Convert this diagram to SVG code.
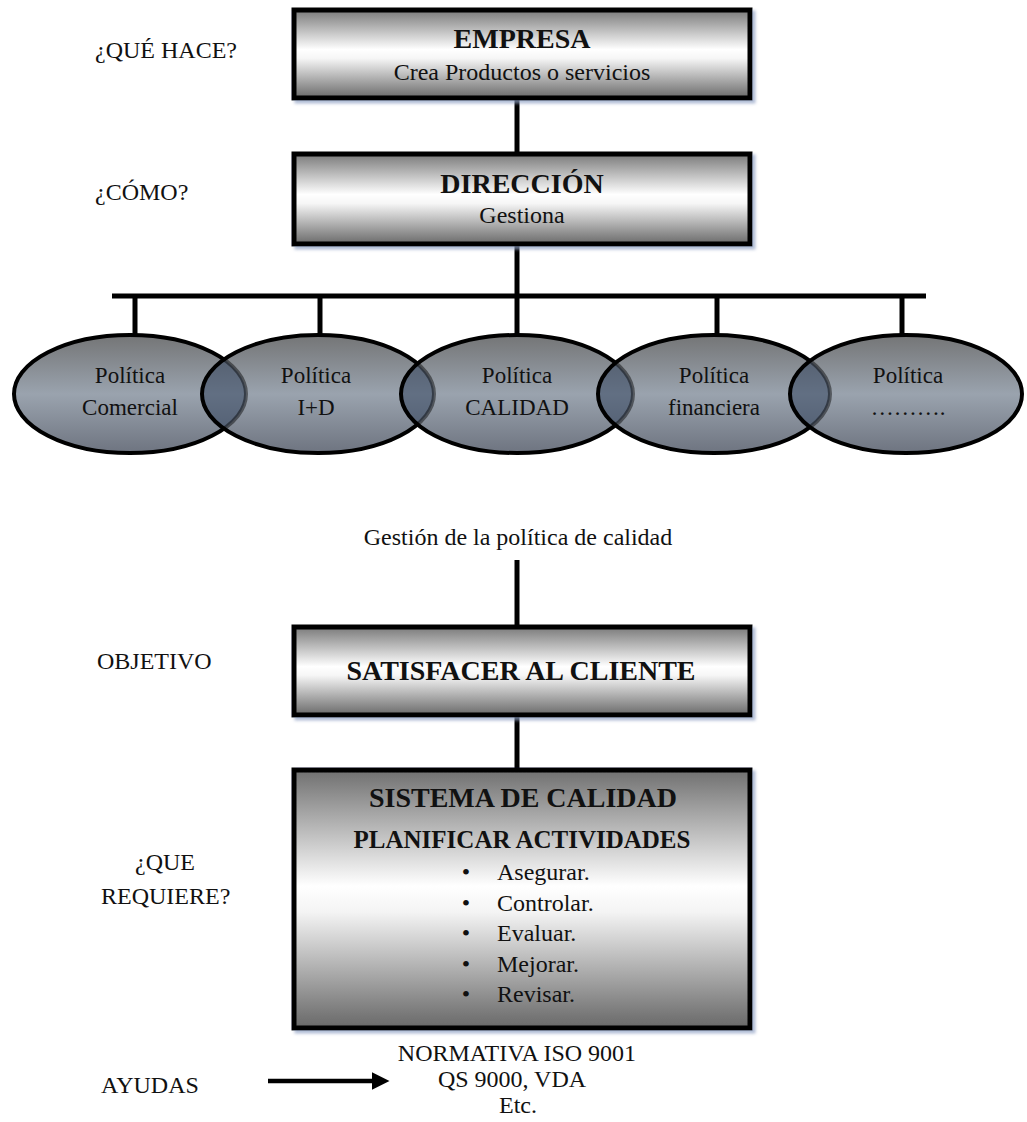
<svg xmlns="http://www.w3.org/2000/svg" width="1027" height="1122" viewBox="0 0 1027 1122" font-family="'Liberation Serif', 'DejaVu Serif', serif">
  <defs>
    <style>
      text { font-family: 'Liberation Serif', 'DejaVu Serif', serif; fill: #111; }
      .lbl { font-size: 24px; }
      .sub { font-size: 24px; text-anchor: middle; }
      .ttl { font-size: 28px; font-weight: bold; text-anchor: middle; }
      .pol { font-size: 23px; text-anchor: middle; }
      .item { font-size: 24px; }
      .box { fill: url(#boxGrad); stroke: #000; stroke-width: 5; filter: url(#shadow); }
      .tallbox { fill: url(#tallGrad); stroke: #000; stroke-width: 5; filter: url(#shadow); }
      .conn { stroke: #000; stroke-width: 5; fill: none; }
      .ell { fill: url(#ellGrad); stroke: none; }
      .ellEdge { fill: none; stroke: #000; stroke-width: 4; }
      .lens { fill: #2a3b58; fill-opacity: 0.5; stroke: #000; stroke-opacity: 0.45; stroke-width: 4; }
    </style>
    <linearGradient id="boxGrad" x1="0" y1="0" x2="0" y2="1">
      <stop offset="0" stop-color="#7a7a7a"/>
      <stop offset="0.45" stop-color="#ffffff"/>
      <stop offset="0.55" stop-color="#f6f6f6"/>
      <stop offset="1" stop-color="#6a6a6a"/>
    </linearGradient>
    <linearGradient id="tallGrad" x1="0" y1="0" x2="0" y2="1">
      <stop offset="0" stop-color="#707070"/>
      <stop offset="0.45" stop-color="#ffffff"/>
      <stop offset="0.55" stop-color="#f4f4f4"/>
      <stop offset="1" stop-color="#686868"/>
    </linearGradient>
    <linearGradient id="ellGrad" x1="0" y1="0" x2="0" y2="1">
      <stop offset="0" stop-color="#747576"/>
      <stop offset="0.5" stop-color="#9aa3ae"/>
      <stop offset="1" stop-color="#6e7480"/>
    </linearGradient>
    <filter id="shadow" x="-5%" y="-5%" width="112%" height="120%">
      <feGaussianBlur in="SourceAlpha" stdDeviation="1.5"/>
      <feOffset dx="3" dy="3" result="b"/>
      <feFlood flood-color="#8fa0c4" flood-opacity="0.7"/>
      <feComposite in2="b" operator="in"/>
      <feMerge>
        <feMergeNode/>
        <feMergeNode in="SourceGraphic"/>
      </feMerge>
    </filter>
    <clipPath id="clipE2"><ellipse cx="318" cy="394" rx="116" ry="59"/></clipPath>
    <clipPath id="clipE3"><ellipse cx="517" cy="394" rx="116" ry="59"/></clipPath>
    <clipPath id="clipE4"><ellipse cx="714" cy="394" rx="116" ry="59"/></clipPath>
    <clipPath id="clipE5"><ellipse cx="906" cy="394" rx="116" ry="59"/></clipPath>
    <marker id="arrowHead" markerWidth="4" markerHeight="4" refX="1" refY="2" orient="auto" markerUnits="strokeWidth">
      <path d="M0,0 L4,2 L0,4 Z" fill="#000"/>
    </marker>
  </defs>

  <rect width="1027" height="1122" fill="#fff"/>

  <!-- side labels -->
  <g id="labels">
    <text class="lbl" x="95" y="58">¿QUÉ HACE?</text>
    <text class="lbl" x="95" y="200">¿CÓMO?</text>
    <text class="lbl" x="97" y="669">OBJETIVO</text>
    <text class="lbl" x="135" y="870">¿QUE</text>
    <text class="lbl" x="101" y="904">REQUIERE?</text>
    <text class="lbl" x="101" y="1093">AYUDAS</text>
  </g>

  <!-- connectors -->
  <g id="connectors">
    <line class="conn" x1="517" y1="100" x2="517" y2="152"/>
    <line class="conn" x1="517" y1="246" x2="517" y2="296"/>
    <line class="conn" x1="112" y1="296" x2="926" y2="296"/>
    <line class="conn" x1="135" y1="296" x2="135" y2="336"/>
    <line class="conn" x1="320" y1="296" x2="320" y2="336"/>
    <line class="conn" x1="517" y1="296" x2="517" y2="336"/>
    <line class="conn" x1="717" y1="296" x2="717" y2="336"/>
    <line class="conn" x1="902" y1="296" x2="902" y2="336"/>
    <line class="conn" x1="517" y1="560" x2="517" y2="625"/>
    <line class="conn" x1="517" y1="717" x2="517" y2="768"/>
    <line x1="268" y1="1081" x2="376" y2="1081" stroke="#000" stroke-width="4.5" marker-end="url(#arrowHead)"/>
  </g>

  <g id="empresa">
    <rect class="box" x="294" y="10" width="456" height="88"/>
    <text class="ttl" x="522" y="48">EMPRESA</text>
    <text class="sub" x="522" y="80">Crea Productos o servicios</text>
  </g>

  <g id="direccion">
    <rect class="box" x="294" y="154" width="456" height="90"/>
    <text class="ttl" x="522" y="193">DIRECCIÓN</text>
    <text class="sub" x="522" y="223">Gestiona</text>
  </g>

  <g id="pol-comercial">
    <ellipse class="ell" cx="130" cy="394" rx="116" ry="59"/>
    <ellipse class="ellEdge" cx="130" cy="394" rx="116" ry="59"/>
    <text class="pol" x="130" y="383">Política</text>
    <text class="pol" x="130" y="415">Comercial</text>
  </g>

  <g id="pol-id">
    <ellipse class="ell" cx="318" cy="394" rx="116" ry="59"/>
    <ellipse class="lens" cx="130" cy="394" rx="116" ry="59" clip-path="url(#clipE2)"/>
    <ellipse class="ellEdge" cx="318" cy="394" rx="116" ry="59"/>
    <text class="pol" x="316" y="383">Política</text>
    <text class="pol" x="316" y="415">I+D</text>
  </g>

  <g id="pol-calidad">
    <ellipse class="ell" cx="517" cy="394" rx="116" ry="59"/>
    <ellipse class="lens" cx="318" cy="394" rx="116" ry="59" clip-path="url(#clipE3)"/>
    <ellipse class="ellEdge" cx="517" cy="394" rx="116" ry="59"/>
    <text class="pol" x="517" y="383">Política</text>
    <text class="pol" x="517" y="415">CALIDAD</text>
  </g>

  <g id="pol-financiera">
    <ellipse class="ell" cx="714" cy="394" rx="116" ry="59"/>
    <ellipse class="lens" cx="517" cy="394" rx="116" ry="59" clip-path="url(#clipE4)"/>
    <ellipse class="ellEdge" cx="714" cy="394" rx="116" ry="59"/>
    <text class="pol" x="714" y="383">Política</text>
    <text class="pol" x="714" y="415">financiera</text>
  </g>

  <g id="pol-otras">
    <ellipse class="ell" cx="906" cy="394" rx="116" ry="59"/>
    <ellipse class="lens" cx="714" cy="394" rx="116" ry="59" clip-path="url(#clipE5)"/>
    <ellipse class="ellEdge" cx="906" cy="394" rx="116" ry="59"/>
    <text class="pol" x="908" y="383">Política</text>
    <text class="pol" x="908" y="415">……….</text>
  </g>

  <g id="gestion-calidad">
    <text class="sub" x="518" y="545">Gestión de la política de calidad</text>
  </g>

  <g id="satisfacer">
    <rect class="box" x="294" y="627" width="456" height="88"/>
    <text class="ttl" x="521" y="680">SATISFACER AL CLIENTE</text>
  </g>

  <g id="sistema">
    <rect class="tallbox" x="294" y="770" width="456" height="258"/>
    <text class="ttl" x="523" y="807">SISTEMA DE CALIDAD</text>
    <text class="ttl" x="522" y="848" style="font-size:25px">PLANIFICAR ACTIVIDADES</text>
    <g class="item">
      <text x="466" y="880" text-anchor="middle">•</text><text x="497" y="880">Asegurar.</text>
      <text x="466" y="910.5" text-anchor="middle">•</text><text x="497" y="910.5">Controlar.</text>
      <text x="466" y="941" text-anchor="middle">•</text><text x="497" y="941">Evaluar.</text>
      <text x="466" y="971.5" text-anchor="middle">•</text><text x="497" y="971.5">Mejorar.</text>
      <text x="466" y="1002" text-anchor="middle">•</text><text x="497" y="1002">Revisar.</text>
    </g>
  </g>

  <g id="normativa">
    <text class="sub" x="517" y="1061">NORMATIVA ISO 9001</text>
    <text class="sub" x="512" y="1087">QS 9000, VDA</text>
    <text class="sub" x="518" y="1113">Etc.</text>
  </g>
</svg>
